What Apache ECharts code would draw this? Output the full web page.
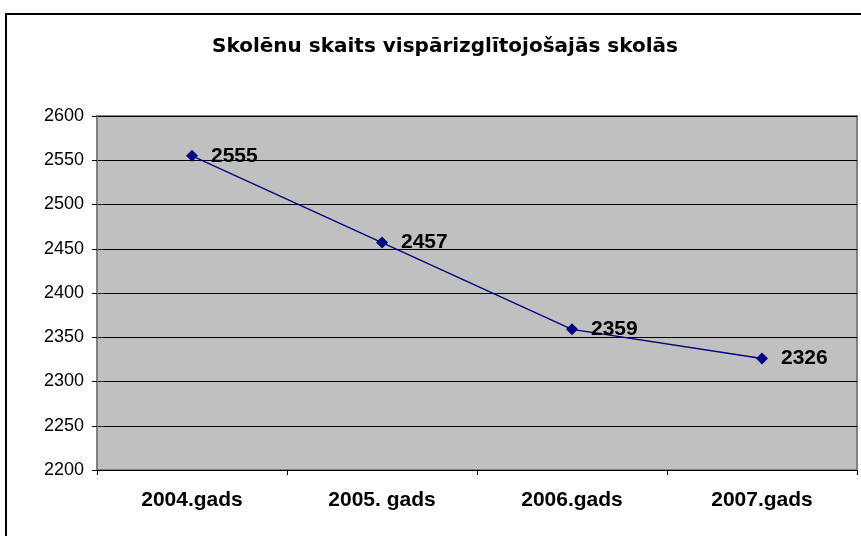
<!DOCTYPE html>
<html>
<head>
  <meta charset="UTF-8">
  <title>Skolēnu skaits</title>
  <script src="https://cdn.jsdelivr.net/npm/echarts@6/dist/echarts.min.js"></script>
  <style type="text/css">
  body { margin: 0; background: #ffffff; }
  #frame {
    position: absolute; left: 5px; top: 13px;
    width: 900px; height: 600px;
    border: 2px solid #000000;
  }
  #chart { position: absolute; left: 0; top: 0; width: 861px; height: 536px; }
  </style>
</head>
<body>
  <div id="frame"></div>
  <div id="chart"></div>

  <script>
    var years = ['2004.gads', '2005. gads', '2006.gads', '2007.gads'];
    var students = [2555, 2457, 2359, 2326];

    var chart = echarts.init(document.getElementById('chart'), null, {renderer: 'canvas'});
    chart.setOption({
      animation: false,
      title: {
        text: 'Skolēnu skaits vispārizglītojošajās skolās',
        left: 440, top: 32, textAlign: 'center',
        textStyle: {fontFamily: 'DejaVu Sans', fontSize: 20, fontWeight: 'bold', color: '#000'}
      },
      grid: {left: 97, right: 4, top: 116, bottom: 66, show: true,
        backgroundColor: '#c0c0c0', borderColor: '#808080', borderWidth: 2},
      xAxis: {
        type: 'category', data: years, boundaryGap: true,
        axisLine: {lineStyle: {color: '#000', width: 1}},
        axisTick: {show: true, length: 5, lineStyle: {color: '#000'}},
        axisLabel: {margin: 20, fontFamily: 'Liberation Sans', fontSize: 21, fontWeight: 'bold', color: '#000'}
      },
      yAxis: {
        type: 'value', min: 2200, max: 2600, interval: 50,
        axisLine: {show: true, lineStyle: {color: '#808080'}},
        axisTick: {show: true, length: 5, lineStyle: {color: '#000'}},
        splitLine: {lineStyle: {color: '#000', width: 1}},
        axisLabel: {margin: 13, fontFamily: 'Liberation Sans', fontSize: 18, color: '#000',
          formatter: function (v) { return String(v); }}
      },
      series: [{
        type: 'line', data: students,
        symbol: 'diamond', symbolSize: 12,
        lineStyle: {color: '#000080', width: 1.3},
        itemStyle: {color: '#000080'},
        label: {show: true, position: 'right', distance: 13,
          fontFamily: 'Liberation Sans', fontSize: 21, fontWeight: 'bold', color: '#000'}
      }]
    });
  </script>
</body>
</html>
